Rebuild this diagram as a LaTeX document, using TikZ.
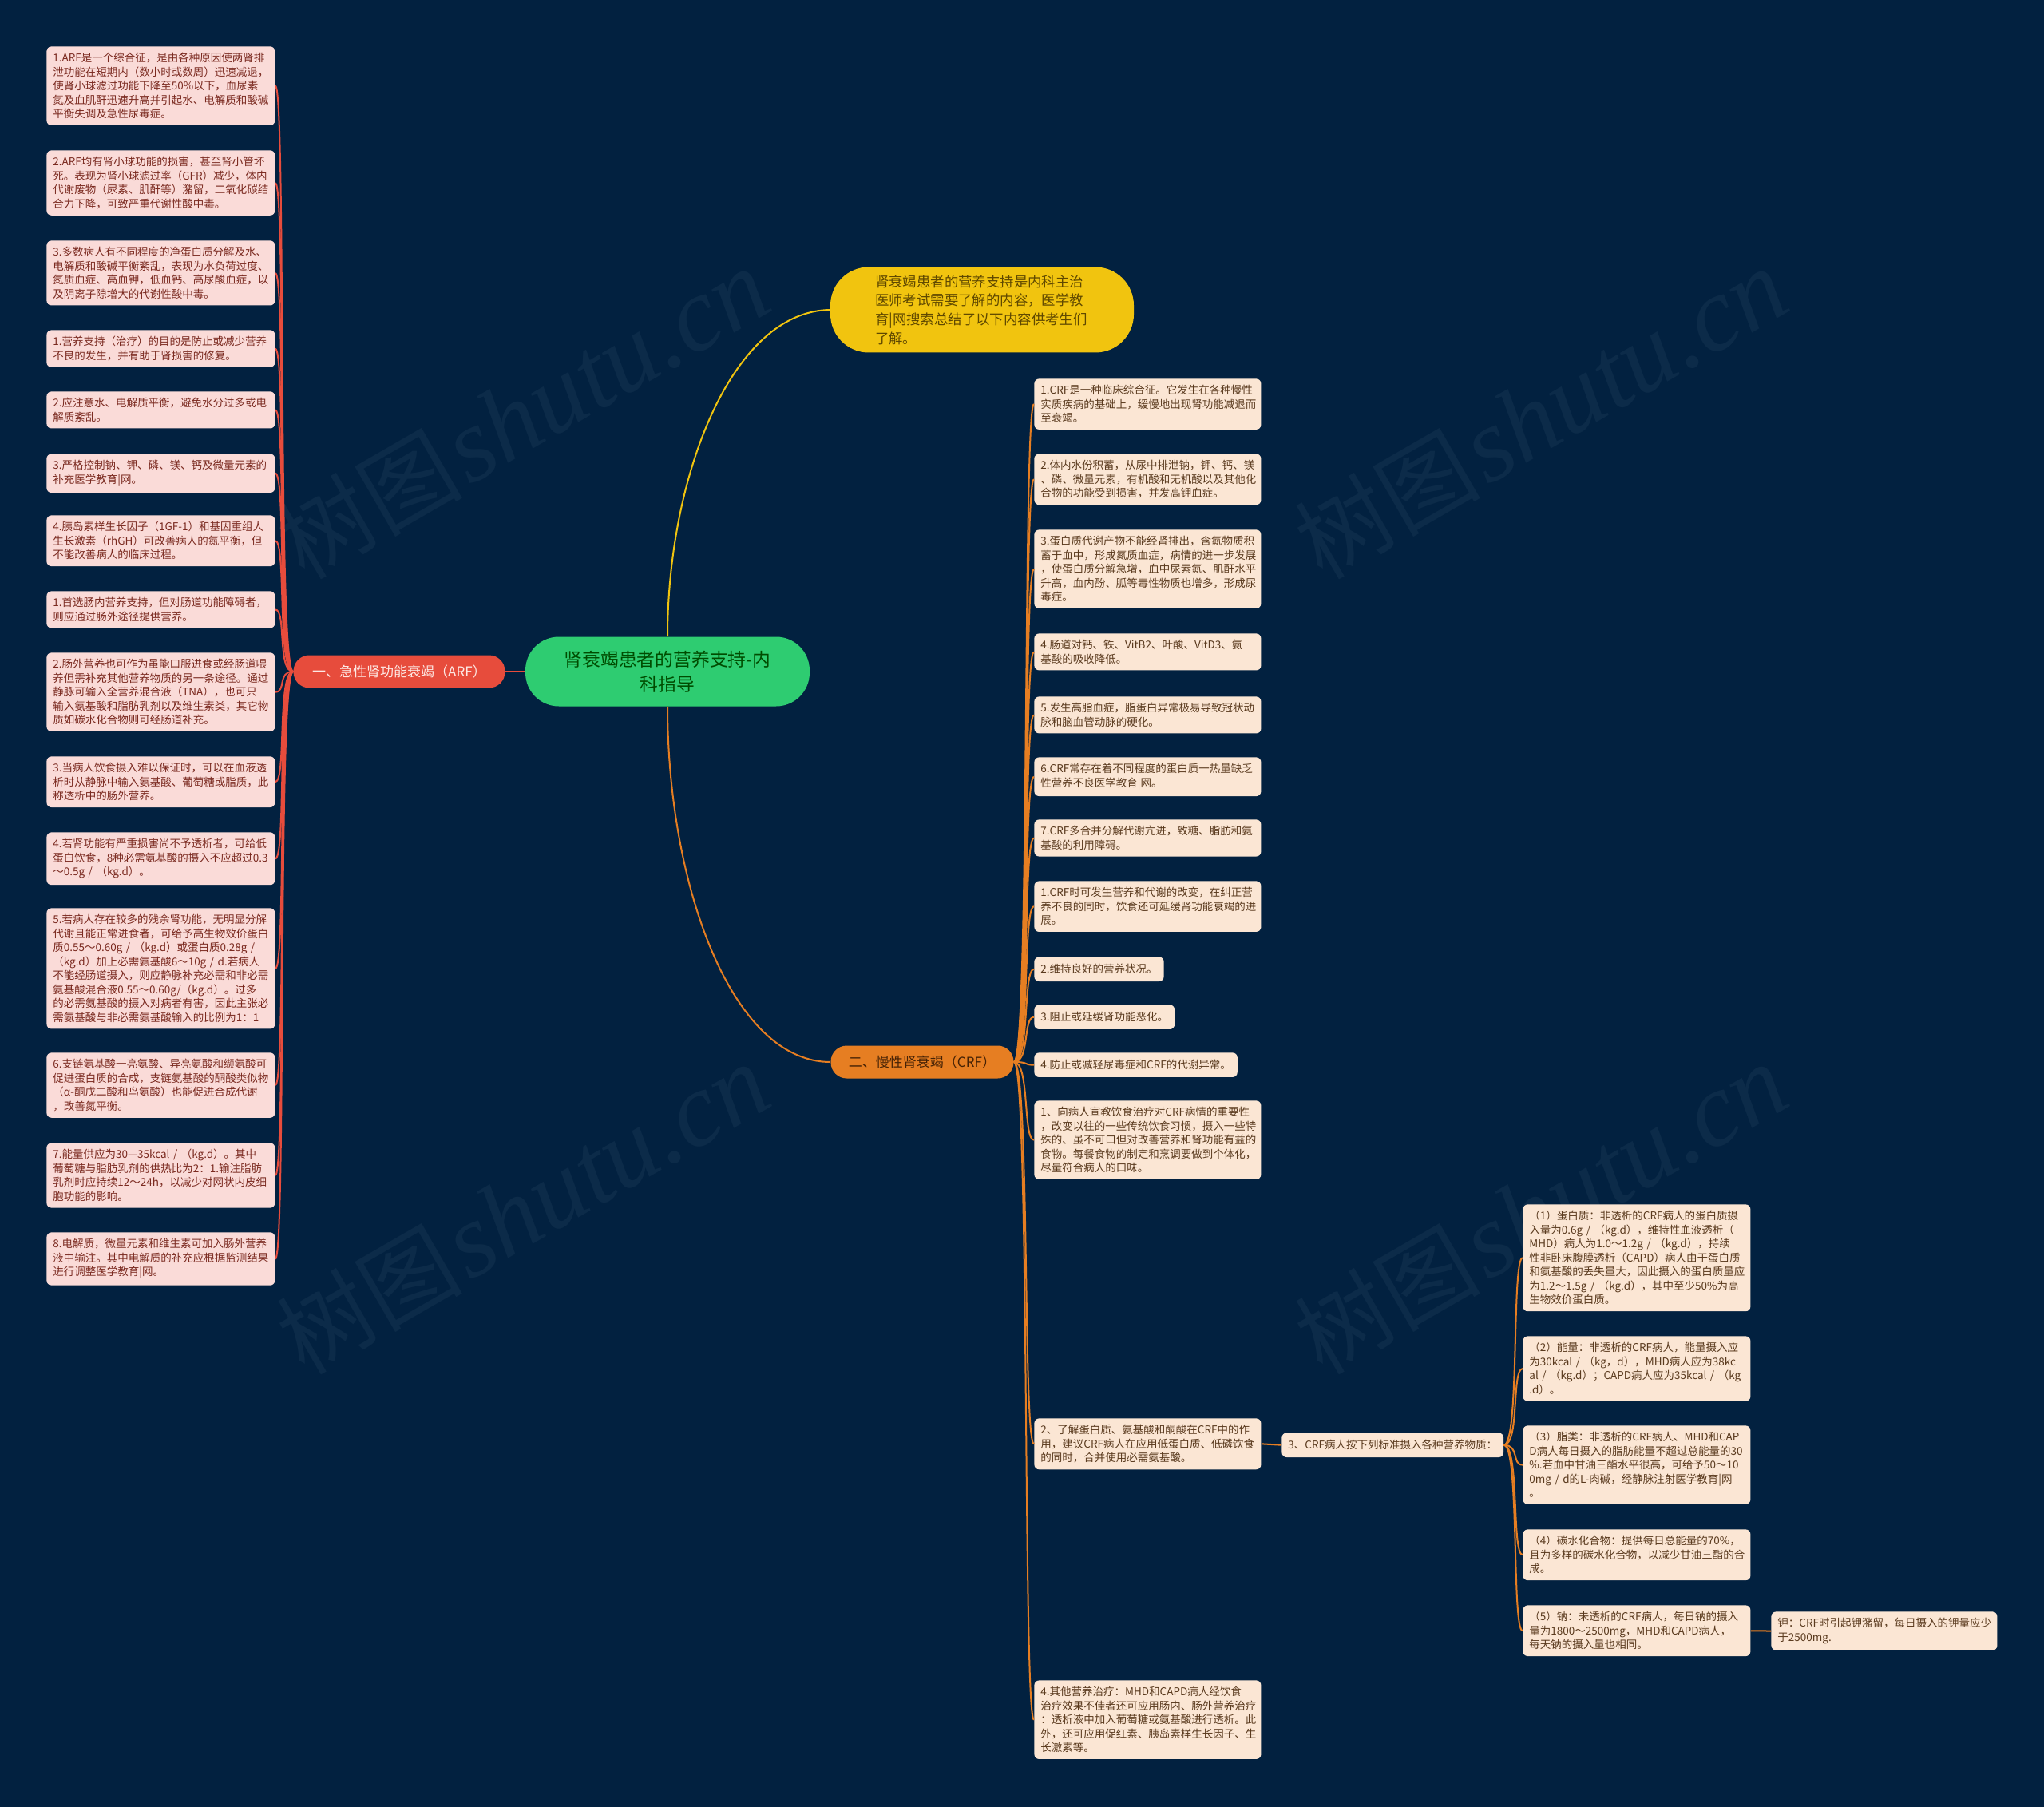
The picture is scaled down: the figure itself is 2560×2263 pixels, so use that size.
\documentclass[tikz,border=0pt]{standalone}
\usepackage{fontspec}
\newfontfamily\cjk{Noto Sans CJK SC}
\newfontfamily\wmserif{Liberation Serif}
\definecolor{bgc}{HTML}{022140}
\definecolor{wmc}{HTML}{0C2B49}
\definecolor{lfill}{HTML}{FADBD8}
\definecolor{ltext}{HTML}{7B2A20}
\definecolor{rfill}{HTML}{FBE6D4}
\definecolor{rtext}{HTML}{5A3A1E}
\definecolor{arfred}{HTML}{E74C3C}
\definecolor{crforange}{HTML}{E67E22}
\definecolor{yelc}{HTML}{F1C40F}
\definecolor{greenc}{HTML}{2ECC71}
\newcommand\lffont{\cjk\fontsize{6.75pt}{8.75pt}\selectfont}
\begin{document}
\begin{tikzpicture}[x=0.5pt,y=-0.5pt,
  lleaf/.style={rectangle, rounded corners=3pt, fill=lfill, text=ltext, anchor=north west, text width=135pt, align=left, inner xsep=4pt, inner ysep=4pt, font=\lffont},
  rleaf/.style={rectangle, rounded corners=3pt, fill=rfill, text=rtext, anchor=north west, text width=134pt, align=left, inner xsep=4pt, inner ysep=4pt, font=\lffont},
  rshort/.style={rectangle, rounded corners=3pt, fill=rfill, text=rtext, anchor=north west, inner xsep=4pt, inner ysep=4.5pt, font=\lffont},
  arfline/.style={draw=arfred, line width=1pt},
  crfline/.style={draw=crforange, line width=1pt},
  yelline/.style={draw=yelc, line width=1pt},
  wmark/.style={rotate=30, text=wmc, inner sep=0pt}
]
\fill[bgc] (0,0) rectangle (2560,2263);
\useasboundingbox (0,0) rectangle (2560,2263);

% watermarks
\foreach \wx/\wy in {655/519, 1930/519, 655/1515, 1930/1515}
  \node[wmark] at (\wx,\wy) {{\cjk\fontsize{58pt}{60pt}\selectfont 树图}~{\wmserif\itshape\fontsize{66pt}{70pt}\selectfont shutu.cn}};

% central nodes
\node[rectangle, rounded corners=21pt, fill=greenc, text=green!30!black, minimum width=178pt, minimum height=43.5pt, align=center, inner sep=0pt, font=\cjk\fontsize{11.4pt}{15.5pt}\selectfont] (ctr) at (836,841) {肾衰竭患者的营养支持-内\\科指导};
\node[rectangle, rounded corners=24pt, fill=yelc, text={rgb,255:red,95;green,72;blue,0}, minimum width=190pt, minimum height=53.5pt, text width=134pt, align=left, inner sep=0pt, font=\cjk\fontsize{8.7pt}{11.8pt}\selectfont] (yel) at (1230,388) {肾衰竭患者的营养支持是内科主治\\医师考试需要了解的内容，医学教\\育|网搜索总结了以下内容供考生们\\了解。};
\node[rectangle, rounded corners=10pt, fill=arfred, text={rgb,255:red,253;green,232;blue,228}, minimum width=132.5pt, minimum height=20.5pt, inner sep=0pt, font=\cjk\fontsize{8.5pt}{10pt}\selectfont] (arf) at (500,841) {一、急性肾功能衰竭（ARF）};
\node[rectangle, rounded corners=10pt, fill=crforange, text={rgb,255:red,70;green,34;blue,5}, minimum width=114.5pt, minimum height=20.5pt, inner sep=0pt, font=\cjk\fontsize{8.5pt}{10pt}\selectfont] (crf) at (1155,1330) {二、慢性肾衰竭（CRF）};

% left leaves
\node[lleaf] (L1) at (58,58) {1.ARF是一个综合征，是由各种原因使两肾排\\泄功能在短期内（数小时或数周）迅速减退，\\使肾小球滤过功能下降至50\%以下，血尿素\\氮及血肌酐迅速升高并引起水、电解质和酸碱\\平衡失调及急性尿毒症。};
\node[lleaf] (L2) at (58,188) {2.ARF均有肾小球功能的损害，甚至肾小管坏\\死。表现为肾小球滤过率（GFR）减少，体内\\代谢废物（尿素、肌酐等）潴留，二氧化碳结\\合力下降，可致严重代谢性酸中毒。};
\node[lleaf] (L3) at (58,301) {3.多数病人有不同程度的净蛋白质分解及水、\\电解质和酸碱平衡紊乱，表现为水负荷过度、\\氮质血症、高血钾，低血钙、高尿酸血症，以\\及阴离子隙增大的代谢性酸中毒。};
\node[lleaf] (L4) at (58,413) {1.营养支持（治疗）的目的是防止或减少营养\\不良的发生，并有助于肾损害的修复。};
\node[lleaf] (L5) at (58,490) {2.应注意水、电解质平衡，避免水分过多或电\\解质紊乱。};
\node[lleaf] (L6) at (58,568) {3.严格控制钠、钾、磷、镁、钙及微量元素的\\补充医学教育|网。};
\node[lleaf] (L7) at (58,645) {4.胰岛素样生长因子（1GF-1）和基因重组人\\生长激素（rhGH）可改善病人的氮平衡，但\\不能改善病人的临床过程。};
\node[lleaf] (L8) at (58,740) {1.首选肠内营养支持，但对肠道功能障碍者，\\则应通过肠外途径提供营养。};
\node[lleaf] (L9) at (58,817) {2.肠外营养也可作为虽能口服进食或经肠道喂\\养但需补充其他营养物质的另一条途径。通过\\静脉可输入全营养混合液（TNA），也可只\\输入氨基酸和脂肪乳剂以及维生素类，其它物\\质如碳水化合物则可经肠道补充。};
\node[lleaf] (L10) at (58,947) {3.当病人饮食摄入难以保证时，可以在血液透\\析时从静脉中输入氨基酸、葡萄糖或脂质，此\\称透析中的肠外营养。};
\node[lleaf] (L11) at (58,1042) {4.若肾功能有严重损害尚不予透析者，可给低\\蛋白饮食，8种必需氨基酸的摄入不应超过0.3\\～0.5g~/~（kg.d）。};
\node[lleaf] (L12) at (58,1137) {5.若病人存在较多的残余肾功能，无明显分解\\代谢且能正常进食者，可给予高生物效价蛋白\\质0.55～0.60g~/~（kg.d）或蛋白质0.28g~/\\（kg.d）加上必需氨基酸6～10g~/~d.若病人\\不能经肠道摄入，则应静脉补充必需和非必需\\氨基酸混合液0.55～0.60g/（kg.d）。过多\\的必需氨基酸的摄入对病者有害，因此主张必\\需氨基酸与非必需氨基酸输入的比例为1：1};
\node[lleaf] (L13) at (58,1318) {6.支链氨基酸一亮氨酸、异亮氨酸和缬氨酸可\\促进蛋白质的合成，支链氨基酸的酮酸类似物\\（α-酮戊二酸和鸟氨酸）也能促进合成代谢\\，改善氮平衡。};
\node[lleaf] (L14) at (58,1431) {7.能量供应为30—35kcal~/~（kg.d）。其中\\葡萄糖与脂肪乳剂的供热比为2：1.输注脂肪\\乳剂时应持续12～24h，以减少对网状内皮细\\胞功能的影响。};
\node[lleaf] (L15) at (58,1543) {8.电解质，微量元素和维生素可加入肠外营养\\液中输注。其中电解质的补充应根据监测结果\\进行调整医学教育|网。};

% right leaves
\node[rleaf] (C1) at (1295,474) {1.CRF是一种临床综合征。它发生在各种慢性\\实质疾病的基础上，缓慢地出现肾功能减退而\\至衰竭。};
\node[rleaf] (C2) at (1295,568) {2.体内水份积蓄，从尿中排泄钠，钾、钙、镁\\、磷、微量元素，有机酸和无机酸以及其他化\\合物的功能受到损害，并发高钾血症。};
\node[rleaf] (C3) at (1295,663) {3.蛋白质代谢产物不能经肾排出，含氮物质积\\蓄于血中，形成氮质血症，病情的进一步发展\\，使蛋白质分解急增，血中尿素氮、肌酐水平\\升高，血内酚、胍等毒性物质也增多，形成尿\\毒症。};
\node[rleaf] (C4) at (1295,793) {4.肠道对钙、铁、VitB2、叶酸、VitD3、氨\\基酸的吸收降低。};
\node[rleaf] (C5) at (1295,872) {5.发生高脂血症，脂蛋白异常极易导致冠状动\\脉和脑血管动脉的硬化。};
\node[rleaf] (C6) at (1295,948) {6.CRF常存在着不同程度的蛋白质一热量缺乏\\性营养不良医学教育|网。};
\node[rleaf] (C7) at (1295,1026) {7.CRF多合并分解代谢亢进，致糖、脂肪和氨\\基酸的利用障碍。};
\node[rleaf] (C8) at (1295,1103) {1.CRF时可发生营养和代谢的改变，在纠正营\\养不良的同时，饮食还可延缓肾功能衰竭的进\\展。};
\node[rshort] (C9) at (1295,1198) {2.维持良好的营养状况。};
\node[rshort] (C10) at (1295,1258) {3.阻止或延缓肾功能恶化。};
\node[rshort] (C11) at (1295,1318) {4.防止或减轻尿毒症和CRF的代谢异常。};
\node[rleaf] (C12) at (1295,1378) {1、向病人宣教饮食治疗对CRF病情的重要性\\，改变以往的一些传统饮食习惯，摄入一些特\\殊的、虽不可口但对改善营养和肾功能有益的\\食物。每餐食物的制定和烹调要做到个体化，\\尽量符合病人的口味。};
\node[rleaf] (C13) at (1295,1776) {2、了解蛋白质、氨基酸和酮酸在CRF中的作\\用，建议CRF病人在应用低蛋白质、低磷饮食\\的同时，合并使用必需氨基酸。};
\node[rleaf] (C14) at (1295,2104) {4.其他营养治疗：MHD和CAPD病人经饮食\\治疗效果不佳者还可应用肠内、肠外营养治疗\\：透析液中加入葡萄糖或氨基酸进行透析。此\\外，还可应用促红素、胰岛素样生长因子、生\\长激素等。};

\node[rshort] (n3) at (1605,1794) {3、CRF病人按下列标准摄入各种营养物质：};

\node[rleaf, text width=134.5pt] (R1) at (1907,1508) {（1）蛋白质：非透析的CRF病人的蛋白质摄\\入量为0.6g~/~（kg.d），维持性血液透析（\\MHD）病人为1.0～1.2g~/~（kg.d），持续\\性非卧床腹膜透析（CAPD）病人由于蛋白质\\和氨基酸的丢失量大，因此摄入的蛋白质量应\\为1.2～1.5g~/~（kg.d），其中至少50\%为高\\生物效价蛋白质。};
\node[rleaf, text width=134.5pt] (R2) at (1907,1673) {（2）能量：非透析的CRF病人，能量摄入应\\为30kcal~/~（kg，d），MHD病人应为38kc\\al~/~（kg.d）；CAPD病人应为35kcal~/~（kg\\.d）。};
\node[rleaf, text width=134.5pt] (R3) at (1907,1785) {（3）脂类：非透析的CRF病人、MHD和CAP\\D病人每日摄入的脂肪能量不超过总能量的30\\\%.若血中甘油三酯水平很高，可给予50～10\\0mg~/~d的L-肉碱，经静脉注射医学教育|网\\。};
\node[rleaf, text width=134.5pt] (R4) at (1907,1915) {（4）碳水化合物：提供每日总能量的70\%，\\且为多样的碳水化合物，以减少甘油三酯的合\\成。};
\node[rleaf, text width=134.5pt] (R5) at (1907,2010) {（5）钠：未透析的CRF病人，每日钠的摄入\\量为1800～2500mg，MHD和CAPD病人，\\每天钠的摄入量也相同。};
\node[rleaf, text width=133.5pt] (R6) at (2218,2018) {钾：CRF时引起钾潴留，每日摄入的钾量应少\\于2500mg.};

% connectors
\draw[yelline] (ctr.north) .. controls (836,600) and (915,390) .. (yel.west);
\draw[crfline] (ctr.south) .. controls (836,1105) and (915,1330) .. (crf.west);
\draw[arfline] (ctr.west) -- (arf.east);
\foreach \i in {1,...,15}
  \draw[arfline] (arf.west) .. controls +(-20,0) and +(14,0) .. (L\i.east);
\foreach \i in {1,...,14}
  \draw[crfline] (crf.east) .. controls +(20,0) and +(-14,0) .. (C\i.west);
\draw[crfline] (C13.east) -- (n3.west);
\foreach \i in {1,...,5}
  \draw[crfline] (n3.east) .. controls +(20,0) and +(-14,0) .. (R\i.west);
\draw[crfline] (R5.east) -- (R6.west);
\end{tikzpicture}
\end{document}
